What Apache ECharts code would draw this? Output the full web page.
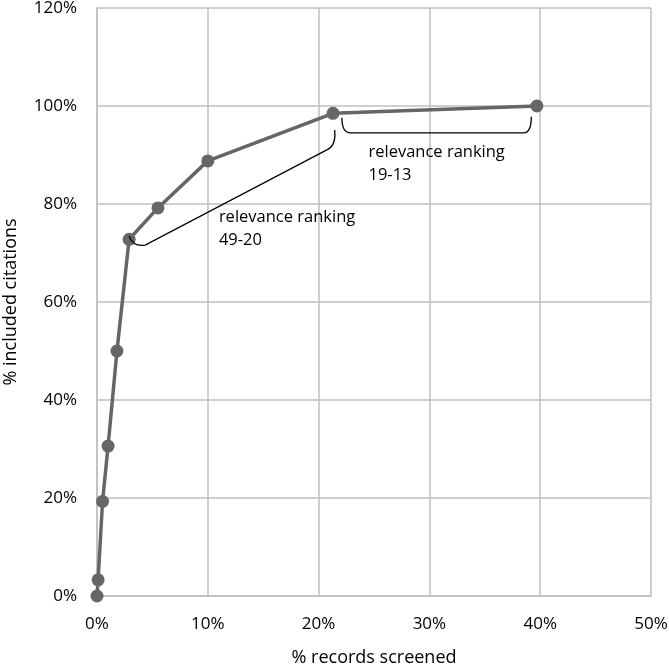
<!DOCTYPE html>
<html><head><meta charset="utf-8">
<script src="https://cdn.jsdelivr.net/npm/echarts@6/dist/echarts.min.js"></script>
<style>html,body{margin:0;padding:0;background:#fff}#c{width:669px;height:668px}</style>
</head><body><div id="c"></div>
<script>
// data (% records screened, % included citations)
const xValues = [0, 0.1, 0.5, 1.0, 1.8, 2.9, 5.5, 10.0, 21.3, 39.7];
const yValues = [0, 3.3, 19.3, 30.6, 50.0, 72.8, 79.2, 88.8, 98.5, 100.0];
const xTicks = [0, 10, 20, 30, 40, 50];
const yTicks = [0, 20, 40, 60, 80, 100, 120];
// annotation brackets in data units: [start, ctrl, corner, corner, ctrl, end]
const brace1 = [[2.9, 73.5], [3.25, 71.2], [4.35, 71.6], [20.7, 91.0], [21.6, 91.8], [21.45, 95.1]];
const brace2 = [[22.1, 97.6], [22.1, 94.5], [22.9, 94.5], [38.5, 94.5], [39.2, 94.5], [39.2, 97.8]];
const label1 = ['relevance ranking', '49-20'];
const label1Pos = [11.0, 79.6];
const label2 = ['relevance ranking', '19-13'];
const label2Pos = [24.5, 92.9];

const chart = echarts.init(document.getElementById('c'));
const font = '"Open Sans", "Noto Sans", sans-serif';
const gridColor = '#bfbfbf';
function braceSeries(pts) {
  return {
    type: 'custom', silent: true, z: 5,
    data: [0],
    renderItem: function (params, api) {
      const p = pts.map(d => api.coord(d));
      return {
        type: 'path',
        shape: {
          pathData: 'M' + p[0] + ' Q' + p[1] + ' ' + p[2] + ' L' + p[3] + ' Q' + p[4] + ' ' + p[5]
        },
        style: { fill: null, stroke: '#000', lineWidth: 1.3 }
      };
    }
  };
}
function labelSeries(lines, pos) {
  return {
    type: 'custom', silent: true, z: 6, data: [0],
    renderItem: function (params, api) {
      const p = api.coord(pos);
      return {
        type: 'text', x: p[0], y: p[1],
        style: { text: lines.join('\n'), fill: '#000', font: '16.5px ' + font, lineHeight: 23, textAlign: 'left', textVerticalAlign: 'top' }
      };
    }
  };
}
chart.setOption({
  animation: false,
  grid: { left: 97, right: 18, top: 8, bottom: 72, containLabel: false, outerBoundsMode: 'none' },
  xAxis: {
    type: 'value', min: 0, max: 50, interval: 10,
    name: '% records screened', nameLocation: 'middle', nameGap: 53,
    nameTextStyle: { fontFamily: font, fontSize: 18, color: '#000' },
    axisLine: { show: true, lineStyle: { color: gridColor, width: 1.5 } },
    axisTick: { show: false },
    axisLabel: { formatter: v => v + '%', fontFamily: font, fontSize: 17, color: '#000', margin: 20 },
    splitLine: { show: true, lineStyle: { color: gridColor, width: 1.5 } }
  },
  yAxis: {
    type: 'value', min: 0, max: 120, interval: 20,
    name: '% included citations', nameLocation: 'middle', nameGap: 77,
    nameTextStyle: { fontFamily: font, fontSize: 18, color: '#000' },
    axisLine: { show: true, lineStyle: { color: gridColor, width: 1.5 } },
    axisTick: { show: false },
    axisLabel: { formatter: v => v + '%', fontFamily: font, fontSize: 17, color: '#000', margin: 20 },
    splitLine: { show: true, lineStyle: { color: gridColor, width: 1.5 } }
  },
  series: [
    {
      type: 'line', z: 3,
      data: xValues.map((x, i) => [x, yValues[i]]),
      symbol: 'circle', symbolSize: 13,
      lineStyle: { color: '#666666', width: 3.5 },
      itemStyle: { color: '#666666' }
    },
    braceSeries(brace1),
    braceSeries(brace2),
    labelSeries(label1, label1Pos),
    labelSeries(label2, label2Pos)
  ]
});
</script></body></html>
